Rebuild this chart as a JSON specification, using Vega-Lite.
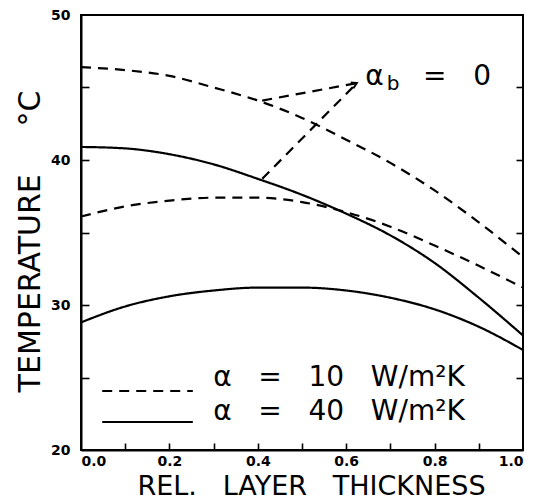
{
  "$schema": "https://vega.github.io/schema/vega-lite/v6.json",
  "width": 442,
  "height": 435,
  "autosize": {"type": "none"},
  "padding": {"left": 81, "top": 15, "right": 21, "bottom": 51},
  "background": "white",
  "config": {
    "view": {"stroke": "black", "strokeWidth": 2},
    "axis": {
      "grid": false,
      "domainColor": "black",
      "domainWidth": 2,
      "tickColor": "black",
      "tickWidth": 1.6,
      "tickSize": 8,
      "labelFont": "DejaVu Sans",
      "labelFontWeight": "bold",
      "labelFontSize": 14,
      "labelColor": "black",
      "titleColor": "black",
      "titleFont": "DejaVu Sans",
      "titleFontWeight": "normal"
    }
  },
  "datasets": {
    "curves": [
      {"series": "a10_b0", "alpha": "10", "thickness": 0.0, "temperature": 46.4},
      {"series": "a10_b0", "alpha": "10", "thickness": 0.1, "temperature": 46.2},
      {"series": "a10_b0", "alpha": "10", "thickness": 0.2, "temperature": 45.8},
      {"series": "a10_b0", "alpha": "10", "thickness": 0.3, "temperature": 45.0},
      {"series": "a10_b0", "alpha": "10", "thickness": 0.4, "temperature": 44.1},
      {"series": "a10_b0", "alpha": "10", "thickness": 0.5, "temperature": 42.9},
      {"series": "a10_b0", "alpha": "10", "thickness": 0.6, "temperature": 41.4},
      {"series": "a10_b0", "alpha": "10", "thickness": 0.7, "temperature": 39.8},
      {"series": "a10_b0", "alpha": "10", "thickness": 0.8, "temperature": 37.9},
      {"series": "a10_b0", "alpha": "10", "thickness": 0.9, "temperature": 35.7},
      {"series": "a10_b0", "alpha": "10", "thickness": 1.0, "temperature": 33.3},
      {"series": "a40_b0", "alpha": "40", "thickness": 0.0, "temperature": 40.9},
      {"series": "a40_b0", "alpha": "40", "thickness": 0.1, "temperature": 40.8},
      {"series": "a40_b0", "alpha": "40", "thickness": 0.2, "temperature": 40.4},
      {"series": "a40_b0", "alpha": "40", "thickness": 0.3, "temperature": 39.7},
      {"series": "a40_b0", "alpha": "40", "thickness": 0.4, "temperature": 38.7},
      {"series": "a40_b0", "alpha": "40", "thickness": 0.5, "temperature": 37.6},
      {"series": "a40_b0", "alpha": "40", "thickness": 0.6, "temperature": 36.3},
      {"series": "a40_b0", "alpha": "40", "thickness": 0.7, "temperature": 34.8},
      {"series": "a40_b0", "alpha": "40", "thickness": 0.8, "temperature": 32.9},
      {"series": "a40_b0", "alpha": "40", "thickness": 0.9, "temperature": 30.5},
      {"series": "a40_b0", "alpha": "40", "thickness": 1.0, "temperature": 27.9},
      {"series": "a10_b", "alpha": "10", "thickness": 0.0, "temperature": 36.1},
      {"series": "a10_b", "alpha": "10", "thickness": 0.1, "temperature": 36.8},
      {"series": "a10_b", "alpha": "10", "thickness": 0.2, "temperature": 37.2},
      {"series": "a10_b", "alpha": "10", "thickness": 0.3, "temperature": 37.4},
      {"series": "a10_b", "alpha": "10", "thickness": 0.4, "temperature": 37.4},
      {"series": "a10_b", "alpha": "10", "thickness": 0.5, "temperature": 37.1},
      {"series": "a10_b", "alpha": "10", "thickness": 0.6, "temperature": 36.4},
      {"series": "a10_b", "alpha": "10", "thickness": 0.7, "temperature": 35.4},
      {"series": "a10_b", "alpha": "10", "thickness": 0.8, "temperature": 34.1},
      {"series": "a10_b", "alpha": "10", "thickness": 0.9, "temperature": 32.7},
      {"series": "a10_b", "alpha": "10", "thickness": 1.0, "temperature": 31.2},
      {"series": "a40_b", "alpha": "40", "thickness": 0.0, "temperature": 28.8},
      {"series": "a40_b", "alpha": "40", "thickness": 0.1, "temperature": 29.9},
      {"series": "a40_b", "alpha": "40", "thickness": 0.2, "temperature": 30.6},
      {"series": "a40_b", "alpha": "40", "thickness": 0.3, "temperature": 31.0},
      {"series": "a40_b", "alpha": "40", "thickness": 0.4, "temperature": 31.2},
      {"series": "a40_b", "alpha": "40", "thickness": 0.5, "temperature": 31.2},
      {"series": "a40_b", "alpha": "40", "thickness": 0.6, "temperature": 31.0},
      {"series": "a40_b", "alpha": "40", "thickness": 0.7, "temperature": 30.5},
      {"series": "a40_b", "alpha": "40", "thickness": 0.8, "temperature": 29.7},
      {"series": "a40_b", "alpha": "40", "thickness": 0.9, "temperature": 28.5},
      {"series": "a40_b", "alpha": "40", "thickness": 1.0, "temperature": 26.9}
    ],
    "arrows": [
      {"x0": 0.41, "y0": 44.1, "x1": 0.624, "y1": 45.3},
      {"x0": 0.41, "y0": 38.7, "x1": 0.624, "y1": 45.3}
    ],
    "tip": [{"x": 0.624, "y": 45.3}],
    "bigText": [
      {"x": 0.643, "y": 45.17, "text": "α"},
      {"x": 0.774, "y": 45.17, "text": "=\u00a0\u00a0\u00a00"},
      {"x": 0.299, "y": 24.41, "text": "α\u00a0\u00a0\u00a0=\u00a0\u00a0\u00a010\u00a0\u00a0\u00a0W/m²K"},
      {"x": 0.299, "y": 22.07, "text": "α\u00a0\u00a0\u00a0=\u00a0\u00a0\u00a040\u00a0\u00a0\u00a0W/m²K"}
    ],
    "subText": [{"x": 0.692, "y": 44.83, "text": "b"}],
    "legendLines": [
      {"alpha": "10", "x0": 0.048, "x1": 0.253, "y": 24.07},
      {"alpha": "40", "x0": 0.048, "x1": 0.253, "y": 21.93}
    ]
  },
  "layer": [
    {
      "data": {"name": "curves"},
      "mark": {"type": "line", "interpolate": "monotone", "color": "black", "strokeWidth": 2.2},
      "encoding": {
        "x": {
          "field": "thickness",
          "type": "quantitative",
          "scale": {"domain": [0, 1], "nice": false},
          "axis": {
            "orient": "bottom",
            "ticks": false,
            "values": [0, 0.2, 0.4, 0.6, 0.8, 1.0],
            "format": ".1f",
            "labelPadding": 4,
            "title": "REL.\u00a0\u00a0\u00a0LAYER\u00a0\u00a0\u00a0THICKNESS",
            "titleFontSize": 27,
            "titleX": 230,
            "titleY": 44,
            "titleAlign": "center",
            "titleBaseline": "alphabetic"
          }
        },
        "y": {
          "field": "temperature",
          "type": "quantitative",
          "scale": {"domain": [20, 50], "nice": false},
          "axis": {
            "orient": "left",
            "ticks": false,
            "values": [20, 30, 40, 50],
            "labelPadding": 11,
            "title": "TEMPERATURE\u00a0\u00a0\u00a0\u00a0\u00a0°C",
            "titleFontSize": 30,
            "titleAngle": 270,
            "titleX": -51,
            "titleY": 226,
            "titleAlign": "center",
            "titleBaseline": "middle"
          }
        },
        "detail": {"field": "series"},
        "strokeDash": {
          "field": "alpha",
          "type": "nominal",
          "scale": {"domain": ["10", "40"], "range": [[10, 7], [1, 0]]},
          "legend": null
        }
      }
    },
    {
      "data": {"name": "arrows"},
      "mark": {"type": "rule", "color": "black", "strokeWidth": 2.2, "strokeDash": [10, 7]},
      "encoding": {
        "x": {"field": "x0", "type": "quantitative", "axis": null},
        "y": {"field": "y0", "type": "quantitative", "axis": null},
        "x2": {"field": "x1"},
        "y2": {"field": "y1"}
      }
    },
    {
      "data": {"name": "tip"},
      "mark": {"type": "point", "shape": "M -1 -0.6 L 0 0 L -1 0.6", "filled": false, "stroke": "black", "strokeWidth": 2, "size": 110, "angle": -25, "opacity": 1},
      "encoding": {
        "x": {"field": "x", "type": "quantitative", "axis": null},
        "y": {"field": "y", "type": "quantitative", "axis": null}
      }
    },
    {
      "data": {"name": "bigText"},
      "mark": {"type": "text", "font": "DejaVu Sans", "fontSize": 28, "align": "left", "baseline": "alphabetic", "color": "black"},
      "encoding": {
        "x": {"field": "x", "type": "quantitative", "axis": null},
        "y": {"field": "y", "type": "quantitative", "axis": null},
        "text": {"field": "text"}
      }
    },
    {
      "data": {"name": "subText"},
      "mark": {"type": "text", "font": "DejaVu Sans", "fontSize": 20, "align": "left", "baseline": "alphabetic", "color": "black"},
      "encoding": {
        "x": {"field": "x", "type": "quantitative", "axis": null},
        "y": {"field": "y", "type": "quantitative", "axis": null},
        "text": {"field": "text"}
      }
    },
    {
      "data": {"name": "legendLines"},
      "mark": {"type": "rule", "color": "black", "strokeWidth": 2.2},
      "encoding": {
        "x": {"field": "x0", "type": "quantitative", "axis": null},
        "x2": {"field": "x1"},
        "y": {"field": "y", "type": "quantitative", "axis": null},
        "strokeDash": {"field": "alpha", "type": "nominal", "legend": null}
      }
    },
    {
      "data": {"name": "curves"},
      "mark": {"type": "point", "opacity": 0},
      "encoding": {
        "x": {
          "field": "thickness",
          "type": "quantitative",
          "axis": {"orient": "top", "offset": -435, "values": [0.1, 0.2, 0.3, 0.4, 0.5, 0.6, 0.7, 0.8, 0.9], "labels": false, "domain": false, "title": null, "tickSize": 7}
        },
        "y": {
          "field": "temperature",
          "type": "quantitative",
          "axis": {"orient": "right", "offset": -442, "values": [25, 30, 35, 40, 45], "labels": false, "domain": false, "title": null, "tickSize": 8}
        }
      }
    },
    {
      "data": {"name": "curves"},
      "mark": {"type": "point", "opacity": 0},
      "encoding": {
        "y": {
          "field": "temperature",
          "type": "quantitative",
          "axis": {"orient": "left", "offset": -442, "values": [25, 30, 35, 40, 45], "labels": false, "domain": false, "title": null, "tickSize": 7}
        }
      }
    }
  ],
  "resolve": {"axis": {"x": "independent", "y": "independent"}}
}
